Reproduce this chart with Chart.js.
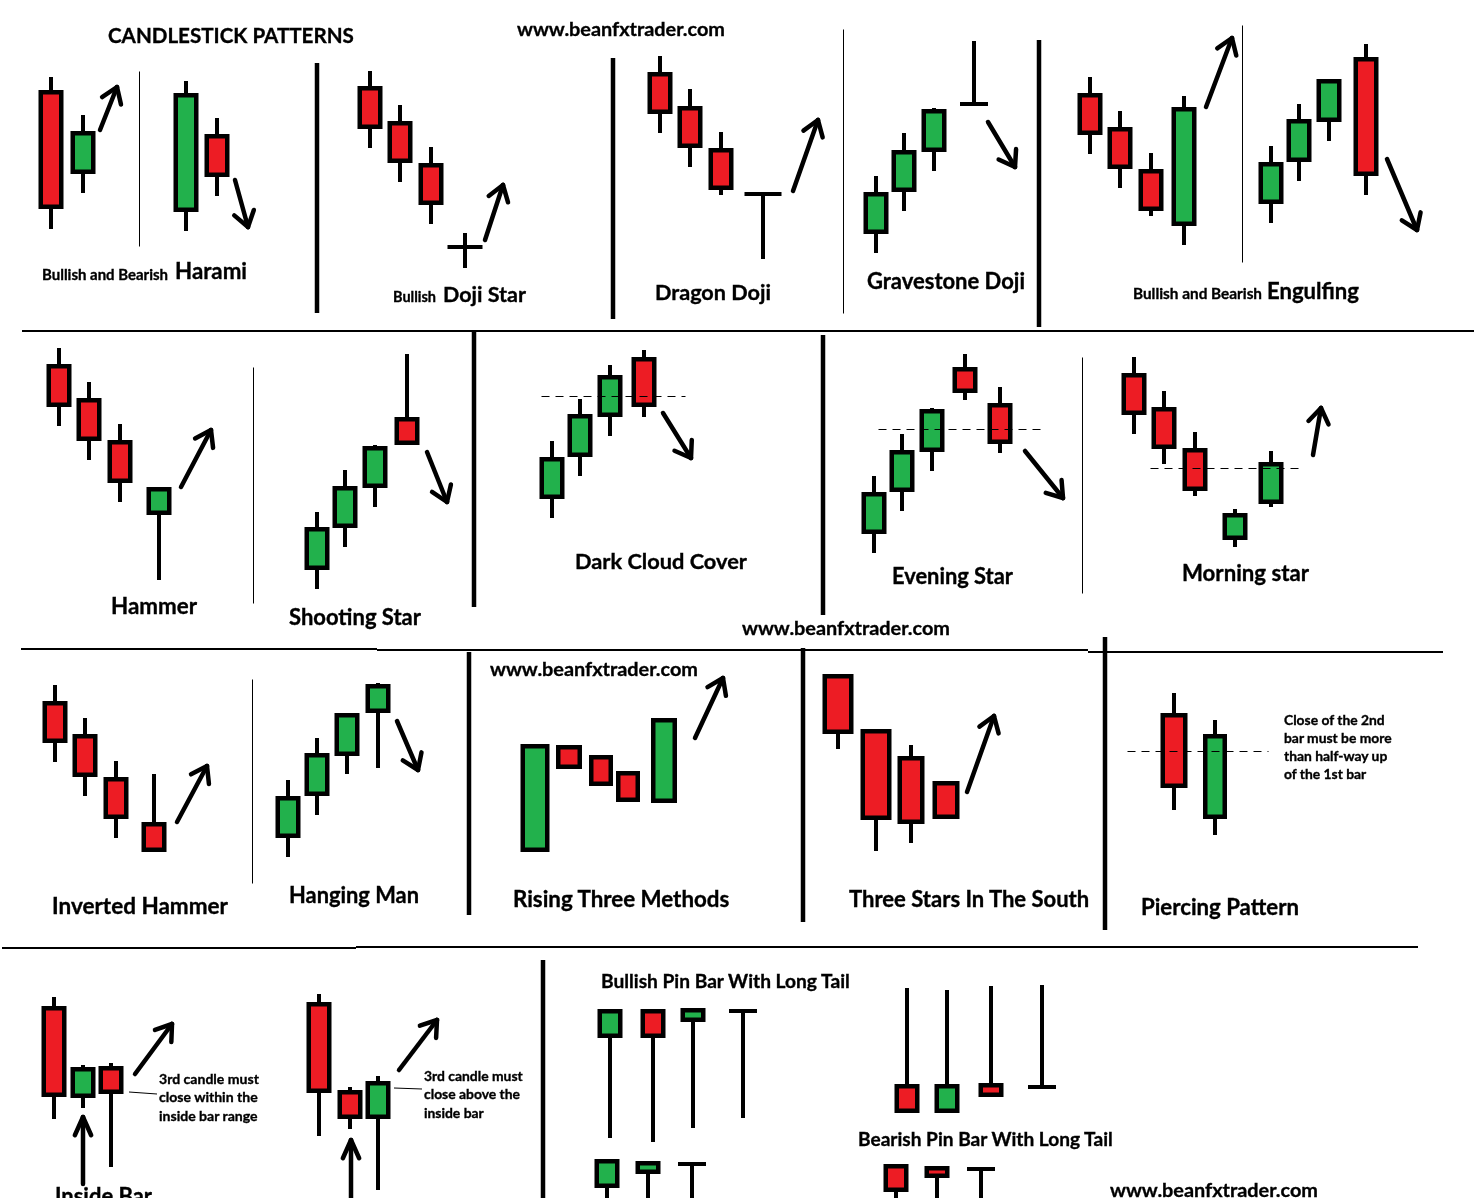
<!DOCTYPE html>
<html>
<head>
<meta charset="utf-8">
<title>Candlestick Patterns</title>
<script src="https://cdn.jsdelivr.net/npm/chart.js@4.4.1/dist/chart.umd.min.js"></script>
<style>
    html, body { margin: 0; padding: 0; background: #fff; }
    #wrap { position: relative; width: 1480px; height: 1198px; overflow: hidden; background: #fff; }
    #chartArea { position: absolute; left: 0; top: 0; }
    .lbl { position: absolute; white-space: nowrap; font-family: Lato, 'Open Sans', sans-serif; font-weight: 700; color: #000; line-height: 1; -webkit-text-stroke: 0.35px #000; }
</style>
</head>
<body>
<div id="wrap"><canvas id="chartArea" width="1480" height="1198"></canvas></div>
<script>
// candles: [x, high, open, close, low] in picture units (y axis runs downward)
const harami      = [[51, 77, 90, 209, 229], [83, 115, 174, 131, 193], [186, 81, 212, 93, 231], [217, 118, 134, 177, 196]];
const dojiStar    = [[370, 71, 86, 129, 148], [400, 105, 121, 163, 182], [431, 147, 163, 205, 224], [465, 233, 247, 247, 268]];
const dragonDoji  = [[660, 56, 72, 114, 133], [690, 89, 106, 148, 167], [721, 132, 148, 190, 195], [763, 194, 194, 194, 259]];
const gravestone  = [[876, 176, 234, 192, 253], [904, 133, 192, 150, 211], [934, 108, 152, 109, 171], [974, 41, 104, 104, 104]];
const engulfing   = [[1090, 77, 93, 135, 154], [1120, 111, 127, 169, 188], [1151, 153, 169, 211, 216], [1184, 96, 226, 107, 245],
                     [1271, 146, 204, 162, 223], [1299, 104, 162, 119, 181], [1329, 79, 122, 79, 141], [1366, 44, 57, 176, 195]];
const hammer      = [[59, 348, 364, 407, 426], [89, 382, 398, 441, 460], [120, 424, 440, 483, 502], [159, 487, 515, 487, 580]];
const shooting    = [[317, 512, 570, 527, 589], [345, 470, 528, 486, 547], [375, 445, 488, 446, 507], [407, 354, 417, 445, 445]];
const darkCloud   = [[552, 441, 499, 457, 518], [580, 399, 457, 414, 476], [610, 365, 417, 375, 436], [644, 350, 357, 407, 417]];
const eveningStar = [[874, 476, 534, 492, 553], [902, 434, 492, 450, 511], [932, 408, 452, 409, 471], [965, 354, 367, 393, 400], [1000, 387, 403, 444, 453]];
const morningStar = [[1134, 357, 373, 415, 434], [1164, 391, 407, 449, 464], [1195, 432, 448, 491, 496], [1235, 509, 540, 513, 547], [1271, 451, 504, 462, 507]];
const invHammer   = [[55, 685, 701, 743, 762], [85, 718, 734, 777, 796], [116, 761, 777, 819, 838], [154, 774, 822, 852, 852]];
const hangingMan  = [[288, 780, 838, 796, 857], [317, 738, 796, 753, 815], [347, 713, 756, 713, 774], [378, 683, 713, 684, 768]];
const risingThree = [[535, 744, 852, 744, 852], [569, 745, 745, 769, 769], [601, 755, 755, 786, 786], [628, 771, 771, 802, 802], [664, 718, 803, 718, 803]];
const threeStars  = [[838, 674, 674, 734, 749], [876, 729, 729, 820, 851], [911, 745, 756, 824, 843], [946, 781, 781, 819, 819]];
const piercing    = [[1174, 693, 713, 788, 810], [1215, 720, 819, 734, 835]];
const insideBarA  = [[54, 997, 1006, 1097, 1119], [83, 1065, 1098, 1067, 1108], [111, 1063, 1066, 1094, 1167]];
const insideBarB  = [[319, 994, 1002, 1093, 1136], [350, 1087, 1090, 1119, 1129], [378, 1076, 1119, 1081, 1190]];
const bullishPins = [[610, 1009, 1038, 1009, 1138], [653, 1009, 1009, 1038, 1142], [693, 1008, 1022, 1008, 1128], [743, 1011, 1011, 1011, 1118],
                     [607, 1159, 1188, 1159, 1210], [648, 1161, 1174, 1161, 1210], [692, 1164, 1164, 1164, 1210]];
const bearishPins = [[907, 988, 1084, 1113, 1113], [947, 990, 1113, 1084, 1113], [991, 986, 1083, 1097, 1097], [1042, 985, 1087, 1087, 1087],
                     [896, 1164, 1164, 1192, 1210], [937, 1166, 1166, 1178, 1210], [981, 1169, 1169, 1169, 1210]];

const patternNames = ['Harami', 'Doji Star', 'Dragon Doji', 'Gravestone Doji', 'Engulfing', 'Hammer', 'Shooting Star',
    'Dark Cloud Cover', 'Evening Star', 'Morning star', 'Inverted Hammer', 'Hanging Man', 'Rising Three Methods',
    'Three Stars In The South', 'Piercing Pattern', 'Inside Bar 1', 'Inside Bar 2', 'Bullish Pin Bar', 'Bearish Pin Bar'];
const patternData = [harami, dojiStar, dragonDoji, gravestone, engulfing, hammer, shooting, darkCloud, eveningStar,
    morningStar, invHammer, hangingMan, risingThree, threeStars, piercing, insideBarA, insideBarB, bullishPins, bearishPins];

// texts
const labels = [
    ['CANDLESTICK PATTERNS', 108, 246, 36],
    ['www.beanfxtrader.com', 517, 208, 29],
    ['Bullish and Bearish', 42, 126, 275],
    ['Harami', 175, 72, 272],
    ['Bullish', 393, 43, 298],
    ['Doji Star', 443, 83, 295],
    ['Dragon Doji', 655, 116, 293],
    ['Gravestone Doji', 867, 158, 282],
    ['Bullish and Bearish', 1133, 129, 294],
    ['Engulfing', 1267, 92, 292],
    ['Hammer', 111, 86, 607],
    ['Shooting Star', 289, 132, 618],
    ['Dark Cloud Cover', 575, 172, 561],
    ['Evening Star', 892, 121, 577],
    ['Morning star', 1182, 127, 574],
    ['www.beanfxtrader.com', 742, 208, 628],
    ['Inverted Hammer', 52, 176, 907],
    ['Hanging Man', 289, 130, 896],
    ['www.beanfxtrader.com', 490, 208, 669],
    ['Rising Three Methods', 513, 217, 900],
    ['Three Stars In The South', 849, 241, 900],
    ['Piercing Pattern', 1141, 158, 908],
    ['Inside Bar', 55, 97, 1197],
    ['Bullish Pin Bar With Long Tail', 601, 250, 981],
    ['Bearish Pin Bar With Long Tail', 858, 256, 1139],
    ['www.beanfxtrader.com', 1110, 208, 1190]
];
const piercingNote = ['Close of the 2nd', 'bar must be more', 'than half-way up', 'of the 1st bar'];
const insideNoteA = ['3rd candle must', 'close within the', 'inside bar range'];
const insideNoteB = ['3rd candle must', 'close above the', 'inside bar'];

// layout
const notes = [
    { lines: piercingNote, x: 1284, y: 720, step: 18, fit: 1, width: 108 },
    { lines: insideNoteA, x: 159, y: 1079, step: 18.5, fit: 1, width: 99 },
    { lines: insideNoteB, x: 424, y: 1076, step: 18.5, fit: 1, width: 96 }
];
const bodyWidth = { 'Rising Three Methods': [29, 26, 24, 24, 26], 'Three Stars In The South': [31, 31, 27, 27], 'Piercing Pattern': [27, 24] };
const dojiWidth = { 'Doji Star': 35, 'Dragon Doji': 37 };
const thickRules = [[317, 63, 317, 313], [613, 58, 613, 319], [1039, 40, 1039, 327], [474, 330, 474, 607], [823, 335, 823, 615],
    [469, 652, 469, 915], [803, 648, 803, 922], [1105, 637, 1105, 930], [543, 960, 543, 1200]];
const thinRules = [[139, 71, 139, 246], [843, 29, 843, 313], [1242, 25, 1242, 262], [253, 367, 253, 603], [1082, 357, 1082, 593], [252, 679, 252, 883]];
const hRules = [[22, 331, 1474, 331], [21, 649, 377, 649], [377, 650, 1088, 650], [1088, 652, 1443, 652], [2, 948, 356, 948], [356, 947, 1418, 947]];
const dashed = [[541, 396, 685, 396], [878, 429, 1045, 429], [1150, 468, 1298, 468], [1127, 751, 1268, 751]];
const leaders = [[129, 1092, 157, 1094], [394, 1088, 422, 1089]];
const arrows = [[100, 130, 117, 87], [235, 180, 248, 227], [485, 240, 503, 185], [793, 191, 818, 120], [988, 122, 1015, 167],
    [1206, 107, 1232, 38], [1387, 159, 1417, 230], [181, 487, 211, 430], [427, 452, 447, 502], [663, 413, 691, 458],
    [1025, 451, 1063, 498], [1313, 455, 1321, 408], [177, 822, 207, 766], [397, 721, 418, 770], [695, 738, 723, 678],
    [967, 792, 994, 716], [135, 1074, 172, 1024], [399, 1070, 437, 1020]];
const upArrows = [[83, 1184, 83, 1117], [351, 1205, 351, 1140]];

const INK = '#000';
const RED = '#ed1c24';
const GREEN = '#22b14c';
const BORDER = 4.5;

function seg(ctx, xs, ys, l, crisp) {
    const snap = v => crisp ? Math.round(v) + 0.5 : v;
    ctx.beginPath();
    ctx.moveTo(snap(xs.getPixelForValue(l[0])), snap(ys.getPixelForValue(l[1])));
    ctx.lineTo(snap(xs.getPixelForValue(l[2])), snap(ys.getPixelForValue(l[3])));
    ctx.stroke();
}

function drawArrow(ctx, xs, ys, a, head, spread) {
    seg(ctx, xs, ys, a);
    const x2 = xs.getPixelForValue(a[2]), y2 = ys.getPixelForValue(a[3]);
    const ang = Math.atan2(y2 - ys.getPixelForValue(a[1]), x2 - xs.getPixelForValue(a[0]));
    [-1, 1].forEach(s => {
        const b = ang + Math.PI + s * spread;
        ctx.beginPath();
        ctx.moveTo(x2, y2);
        ctx.lineTo(x2 + head * Math.cos(b), y2 + head * Math.sin(b));
        ctx.stroke();
    });
}

function drawCandle(ctx, xs, ys, p, w, dw) {
    const px = xs.getPixelForValue(p.x);
    const pH = ys.getPixelForValue(p.h), pL = ys.getPixelForValue(p.l);
    const pO = ys.getPixelForValue(p.o), pC = ys.getPixelForValue(p.c);
    ctx.strokeStyle = INK;
    ctx.lineWidth = 4;
    ctx.lineCap = 'butt';
    if (pL - pH > 0.5) {
        ctx.beginPath();
        ctx.moveTo(px, pH);
        ctx.lineTo(px, pL);
        ctx.stroke();
    }
    if (p.o === p.c) {
        const half = (xs.getPixelForValue(p.x + dw / 2) - xs.getPixelForValue(p.x - dw / 2)) / 2;
        ctx.beginPath();
        ctx.moveTo(px - half, pO);
        ctx.lineTo(px + half, pO);
        ctx.stroke();
        return;
    }
    const half = (xs.getPixelForValue(p.x + w / 2) - xs.getPixelForValue(p.x - w / 2)) / 2;
    const top = Math.min(pO, pC), bot = Math.max(pO, pC);
    ctx.fillStyle = INK;
    ctx.fillRect(px - half, top, half * 2, bot - top);
    ctx.fillStyle = p.c < p.o ? GREEN : RED;
    ctx.fillRect(px - half + BORDER, top + BORDER, half * 2 - BORDER * 2, Math.max(bot - top - BORDER * 2, 1));
}

const candlePlugin = {
    id: 'candles',
    afterDatasetsDraw(chart) {
        const ctx = chart.ctx;
        const xs = chart.scales.x, ys = chart.scales.y;
        ctx.save();
        ctx.strokeStyle = INK;

        ctx.lineWidth = 2;
        hRules.forEach(l => seg(ctx, xs, ys, l));
        ctx.lineWidth = 1;
        thinRules.forEach(l => seg(ctx, xs, ys, l, true));
        leaders.forEach(l => seg(ctx, xs, ys, l));
        ctx.lineWidth = 4.5;
        thickRules.forEach(l => seg(ctx, xs, ys, l));

        chart.data.datasets.forEach(ds => {
            const widths = bodyWidth[ds.label];
            ds.data.forEach((p, i) => {
                const w = Array.isArray(widths) ? widths[i] : 25;
                drawCandle(ctx, xs, ys, p, w, dojiWidth[ds.label] || 28);
            });
        });

        ctx.lineWidth = 1;
        ctx.lineCap = 'butt';
        ctx.setLineDash([8, 6]);
        dashed.forEach(l => seg(ctx, xs, ys, l, true));
        ctx.setLineDash([]);

        ctx.lineWidth = 4.5;
        ctx.lineCap = 'round';
        ctx.lineJoin = 'round';
        arrows.forEach(a => drawArrow(ctx, xs, ys, a, 18, 0.6));
        upArrows.forEach(a => drawArrow(ctx, xs, ys, a, 20, 0.42));
        ctx.restore();
    }
};

const datasets = patternNames.map((name, i) => ({
    label: name,
    data: patternData[i].map(c => ({ x: c[0], y: c[3], h: c[1], o: c[2], c: c[3], l: c[4] })),
    pointRadius: 0,
    showLine: false
}));

new Chart(document.getElementById('chartArea').getContext('2d'), {
    type: 'scatter',
    data: { datasets: datasets },
    options: {
        responsive: false,
        animation: false,
        devicePixelRatio: 1,
        events: [],
        layout: { padding: 0 },
        plugins: { legend: { display: false }, tooltip: { enabled: false } },
        scales: {
            x: { type: 'linear', min: 0, max: 1480, display: false },
            y: { type: 'linear', min: 0, max: 1198, reverse: true, display: false }
        }
    },
    plugins: [candlePlugin]
});

// text labels, sized to the width they take in the picture
const measure = document.createElement('canvas').getContext('2d');
measure.font = '700 100px Lato';
const fitSize = (text, width) => 100 * width / measure.measureText(text).width;
const wrap = document.getElementById('wrap');

function addLabel(text, x, cy, size) {
    const el = document.createElement('div');
    el.className = 'lbl';
    el.textContent = text;
    el.style.fontSize = size.toFixed(2) + 'px';
    el.style.left = x + 'px';
    el.style.top = (cy - 0.53 * size).toFixed(1) + 'px';
    wrap.appendChild(el);
}

labels.forEach(([text, x, w, cy]) => addLabel(text, x, cy, fitSize(text, w)));
notes.forEach(n => {
    const size = fitSize(n.lines[n.fit], n.width);
    n.lines.forEach((line, i) => addLabel(line, n.x, n.y + i * n.step, size));
});
</script>
</body>
</html>
